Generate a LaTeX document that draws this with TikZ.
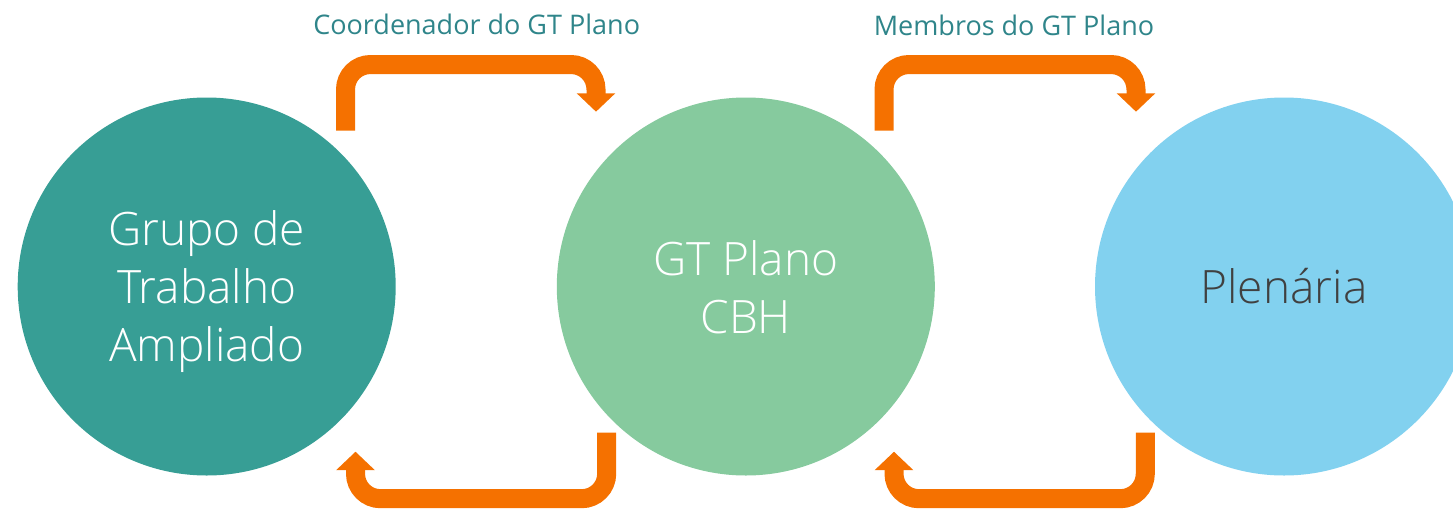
\documentclass[tikz,border=0pt]{standalone}
\usepackage{fontspec}
\setmainfont{Open Sans Light}
\newfontfamily\lblfont{Open Sans}
\usetikzlibrary{arrows.meta}
\definecolor{cteal}{HTML}{379E95}
\definecolor{cgreen}{HTML}{86CA9E}
\definecolor{cblue}{HTML}{82D1EF}
\definecolor{corange}{HTML}{F57100}
\definecolor{clabel}{HTML}{2F858A}
\definecolor{cdark}{HTML}{404040}
\tikzset{
  bubble/.style={circle, minimum size=378pt, inner sep=0pt},
  btext/.style={align=center, inner sep=0pt, font=\fontsize{46}{58}\selectfont},
  flow/.style={draw=corange, line width=19pt, rounded corners=25pt,
    -{Triangle[width=37.5pt,length=18.4pt]}, fill=none},
  lbl/.style={text=clabel, font=\lblfont\fontsize{27}{32}\selectfont, anchor=base, inner sep=0pt}
}
\begin{document}
\begin{tikzpicture}[x=1pt,y=-1pt]
\useasboundingbox (0,0) rectangle (1453,512);
\clip (0,0) rectangle (1453,512);
\node[bubble, fill=cteal] (c1) at (206.7,286.5) {};
\node[bubble, fill=cgreen] (c2) at (745.8,286.5) {};
\node[bubble, fill=cblue] (c3) at (1284,286.5) {};
\node[btext, text=white] (t1) at ([yshift=-5pt]c1.center) {Grupo de\\Trabalho\\Ampliado};
\node[btext, text=white] (t2) at ([yshift=-1pt]c2.center) {GT Plano\\CBH};
\node[btext, text=cdark] (t3) at (c3.center) {Plenária};
% connector end points
\coordinate (t1s) at (345.5,130.7);
\coordinate (t1m) at (470,64.5);
\coordinate (t1e) at (596,111.7);
\coordinate (b1s) at (606.7,432.7);
\coordinate (b1m) at (480,498.7);
\coordinate (b1e) at (355.5,451.7);
\coordinate (t2s) at (884,130.7);
\coordinate (t2m) at (1010,64.5);
\coordinate (t2e) at (1136,111.7);
\coordinate (b2s) at (1145.3,432.7);
\coordinate (b2m) at (1020,498.7);
\coordinate (b2e) at (894,451.7);
\draw[flow] (t1s) |- (t1m) -| (t1e);
\draw[flow] (b1s) |- (b1m) -| (b1e);
\draw[flow] (t2s) |- (t2m) -| (t2e);
\draw[flow] (b2s) |- (b2m) -| (b2e);
\node[lbl] (l1) at (476.7,34.5) {Coordenador do GT Plano};
\node[lbl] (l2) at (1014,35.5) {Membros do GT Plano};
\end{tikzpicture}
\end{document}
